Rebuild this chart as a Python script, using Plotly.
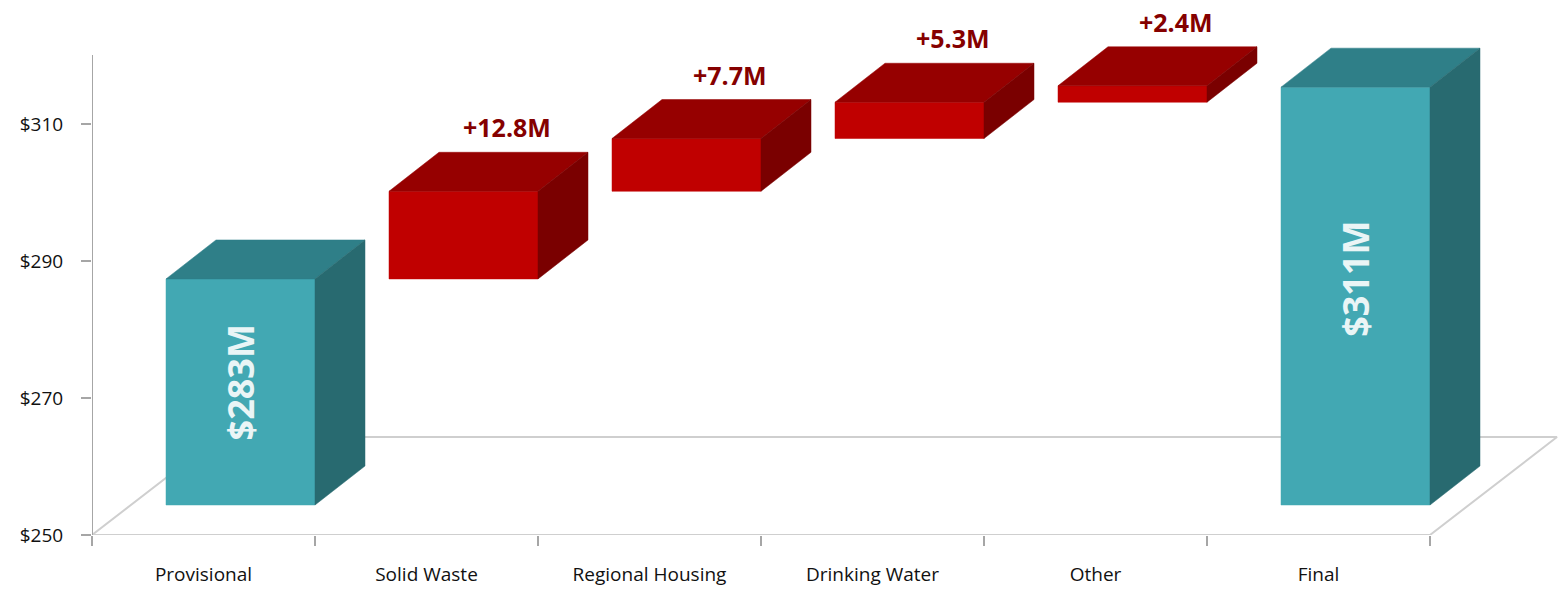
import plotly.graph_objects as go

categories = ["Provisional", "Solid Waste", "Regional Housing", "Drinking Water", "Other", "Final"]
kinds = ["total", "delta", "delta", "delta", "delta", "total"]
values = [283.0, 12.8, 7.7, 5.3, 2.4, 311.0]
delta_labels = ["", "+12.8M", "+7.7M", "+5.3M", "+2.4M", ""]
total_labels = ["$283M", "", "", "", "", "$311M"]
y_ticks = [250, 270, 290, 310]
y_ticktext = ["$250", "$270", "$290", "$310"]
axis_min = 250

# style / geometry (pixel based, converted to data units)
PX_X = 223.0        # px per category
PX_Y = 6.85         # px per $M
L, B = 92, 55
AXIS_TOP_PX = 55
W, H = 1560, 590
x_range = [-0.5, -0.5 + (W - L) / PX_X]
y_range = [axis_min, axis_min + (H - B) / PX_Y]
y_axis_top = axis_min + (H - B - AXIS_TOP_PX) / PX_Y

fx, fy = 37 / PX_X, 30 / PX_Y          # front face offset from axis plane
dx, dy = 50 / PX_X, 39 / PX_Y          # bar depth
hw = 74.5 / PX_X                       # half width of bar front face
flx, fly = 127 / PX_X, 98 / PX_Y       # floor depth

TEAL = ("#42A8B3", "#2F7F88", "#286A70")
RED = ("#C00000", "#960000", "#7A0000")
FONT = "Open Sans"

fig = go.Figure()

# floor
n = len(categories)
x0, x1 = -0.5, n - 0.5
fig.add_trace(go.Scatter(
    x=[x0, x1, x1 + flx, x0 + flx, x0], y=[axis_min, axis_min, axis_min + fly, axis_min + fly, axis_min],
    mode="lines", fill="toself", fillcolor="white",
    line=dict(color="#CFCFCF", width=2), hoverinfo="skip", showlegend=False))
# y axis line
fig.add_trace(go.Scatter(x=[x0, x0], y=[axis_min, y_axis_top], mode="lines",
                         line=dict(color="#A6A6A6", width=2), hoverinfo="skip", showlegend=False))

annotations = []
running = 0.0
for i, (cat, kind, v) in enumerate(zip(categories, kinds, values)):
    if kind == "total":
        base, top = axis_min, v
        running = v
        cols = TEAL
    else:
        base, top = running, running + v
        running = top
        cols = RED
    xl, xr = i + fx - hw, i + fx + hw
    yb, yt = base + fy, top + fy
    # front
    fig.add_trace(go.Scatter(x=[xl, xr, xr, xl, xl], y=[yb, yb, yt, yt, yb], mode="lines",
                             fill="toself", fillcolor=cols[0], line=dict(color=cols[0], width=0.5),
                             hoverinfo="skip", showlegend=False))
    # top
    fig.add_trace(go.Scatter(x=[xl, xr, xr + dx, xl + dx, xl], y=[yt, yt, yt + dy, yt + dy, yt], mode="lines",
                             fill="toself", fillcolor=cols[1], line=dict(color=cols[1], width=0.5),
                             hoverinfo="skip", showlegend=False))
    # side
    fig.add_trace(go.Scatter(x=[xr, xr + dx, xr + dx, xr, xr], y=[yb, yb + dy, yt + dy, yt, yb], mode="lines",
                             fill="toself", fillcolor=cols[2], line=dict(color=cols[2], width=0.5),
                             hoverinfo="skip", showlegend=False))
    if kind == "total":
        annotations.append(dict(x=i + fx, y=(yb + yt) / 2 + (top - axis_min) * 0.04, text="<b>%s</b>" % total_labels[i],
                                textangle=-90, showarrow=False, xref="x", yref="y",
                                font=dict(size=36, color="#EAF5F6", family=FONT)))
    else:
        annotations.append(dict(x=i + 0.36, y=yt + dy, text="<b>%s</b>" % delta_labels[i],
                                showarrow=False, xref="x", yref="y", yanchor="middle", yshift=25,
                                font=dict(size=25, color="#850000", family=FONT)))

fig.update_layout(
    width=W, height=H, margin=dict(l=L, r=0, t=0, b=B),
    plot_bgcolor="white", paper_bgcolor="white",
    annotations=annotations,
    font=dict(family=FONT, color="#111111"),
    xaxis=dict(range=x_range, showgrid=False, zeroline=False, showline=False,
               tickmode="array", tickvals=list(range(n)), ticktext=categories, ticks="",
               tickfont=dict(size=19, color="#111111"), ticklabelstandoff=26,
               minor=dict(tickmode="array", tickvals=[k - 0.5 for k in range(n + 1)], ticks="outside",
                          ticklen=10, tickcolor="#A6A6A6", tickwidth=2, showgrid=False)),
    yaxis=dict(range=y_range, showgrid=False, zeroline=False, showline=False,
               tickmode="array", tickvals=y_ticks, ticktext=y_ticktext, ticks="outside",
               ticklen=10, tickcolor="#A6A6A6", tickwidth=2, tickfont=dict(size=19, color="#111111"),
               ticklabelstandoff=14),
)
fig.write_html("out.html")
